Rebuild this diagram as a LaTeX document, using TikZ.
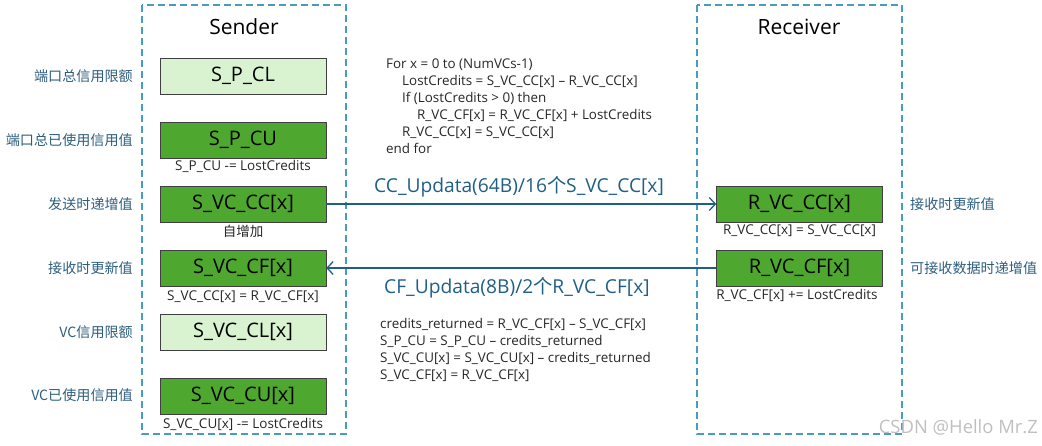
\documentclass[tikz,border=0pt]{standalone}
\usepackage{fontspec}
\setmainfont{Open Sans}
\newfontfamily\cjk{Noto Sans CJK SC}
\usetikzlibrary{arrows.meta}
\definecolor{dkgreen}{HTML}{4EA72E}
\definecolor{ltgreen}{HTML}{D9F2D0}
\definecolor{dashblue}{HTML}{4A9BC0}
\definecolor{arrowblue}{HTML}{1F5F86}
\definecolor{labelblue}{HTML}{2E5E7E}
\definecolor{codegray}{HTML}{262626}
\tikzset{
  panel/.style={draw=dashblue, line width=1.2pt, dash pattern=on 7pt off 4pt},
  regbox/.style={draw=black!75, line width=0.6pt, minimum width=166pt, minimum height=36pt, inner sep=0pt, font=\fontsize{20}{22}\selectfont},
  darkreg/.style={regbox, fill=dkgreen},
  lightreg/.style={regbox, fill=ltgreen},
  note/.style={font=\fontsize{13.5}{15}\selectfont, text=codegray, inner sep=0pt},
  sidelabel/.style={font=\cjk\fontsize{14.1}{16}\selectfont, text=labelblue, inner sep=0pt},
  title/.style={font=\fontsize{21}{23}\selectfont, inner sep=0pt},
  msg/.style={font=\fontsize{19.2}{21}\selectfont, text=arrowblue, inner sep=0pt},
  code/.style={font=\fontsize{13.4}{17}\selectfont, text=codegray, align=left, inner sep=0pt, anchor=north west},
  link/.style={draw=arrowblue, line width=1.3pt, -{Straight Barb[length=6pt,width=13pt,line width=1.3pt]}},
}
\begin{document}
\begin{tikzpicture}[x=1pt,y=-1pt]
\useasboundingbox (0,0) rectangle (1042,445);
% panels
\draw[panel] (142,5) rectangle (346,434);
\draw[panel] (697,5) rectangle (902,434);
\node[title] (sender) at (244,27) {Sender};
\node[title] (receiver) at (799,27) {Receiver};
% sender registers
\node[lightreg] (spcl) at (243,76) {S\_P\_CL};
\node[darkreg] (spcu) at (243,140) {S\_P\_CU};
\node[note] (spcun) at (243,166) {S\_P\_CU -= LostCredits};
\node[darkreg] (svccc) at (243,204) {S\_VC\_CC[x]};
\node[note,font=\cjk\fontsize{13.5}{15}\selectfont] (svcccn) at (243,231) {自增加};
\node[darkreg] (svccf) at (243,268) {S\_VC\_CF[x]};
\node[note] (svccfn) at (243,297) {S\_VC\_CC[x] = R\_VC\_CF[x]};
\node[lightreg] (svccl) at (243,332) {S\_VC\_CL[x]};
\node[darkreg] (svccu) at (243,396) {S\_VC\_CU[x]};
\node[note] (svccun) at (243,424) {S\_VC\_CU[x] -= LostCredits};
% receiver registers
\node[darkreg] (rvccc) at (799.5,204) {R\_VC\_CC[x]};
\node[note] (rvcccn) at (799.5,231) {R\_VC\_CC[x] = S\_VC\_CC[x]};
\node[darkreg] (rvccf) at (799.5,268) {R\_VC\_CF[x]};
\node[note] (rvccfn) at (797,295) {R\_VC\_CF[x] += LostCredits};
% left labels
\node[sidelabel,anchor=east] (l1) at (133,76) {端口总信用限额};
\node[sidelabel,anchor=east] (l2) at (133,140) {端口总已使用信用值};
\node[sidelabel,anchor=east] (l3) at (133,204) {发送时递增值};
\node[sidelabel,anchor=east] (l4) at (133,268) {接收时更新值};
\node[sidelabel,anchor=east] (l5) at (133,332) {VC信用限额};
\node[sidelabel,anchor=east] (l6) at (133,395) {VC已使用信用值};
% right labels
\node[sidelabel,anchor=west] (r1) at (910,204) {接收时更新值};
\node[sidelabel,anchor=west] (r2) at (910,268) {可接收数据时递增值};
% connectors
\draw[link] (svccc.east) -- (rvccc.west);
\draw[link] (rvccf.west) -- (svccf.east);
\node[msg] (ccmsg) at (519,187) {CC\_Updata(64B)/16{\cjk 个}S\_VC\_CC[x]};
\node[msg,anchor=west] (cfmsg) at (384,288) {CF\_Updata(8B)/2{\cjk 个}R\_VC\_CF[x]};
% code blocks
\node[code] (code1) at (386,59) {For x = 0 to (NumVCs-1)\\
\hspace*{16pt}LostCredits = S\_VC\_CC[x] -- R\_VC\_CC[x]\\
\hspace*{16pt}If (LostCredits > 0) then\\
\hspace*{31pt}R\_VC\_CF[x] = R\_VC\_CF[x] + LostCredits\\
\hspace*{16pt}R\_VC\_CC[x] = S\_VC\_CC[x]\\
end for};
\node[code] (code2) at (380,318) {credits\_returned = R\_VC\_CF[x] -- S\_VC\_CF[x]\\
S\_P\_CU = S\_P\_CU -- credits\_returned\\
S\_VC\_CU[x] = S\_VC\_CU[x] -- credits\_returned\\
S\_VC\_CF[x] = R\_VC\_CF[x]};
% watermark
\node[font=\fontsize{18.4}{20}\selectfont, text=black!25, anchor=east, inner sep=0pt] (wm) at (1038,427) {CSDN @Hello Mr.Z};
\end{tikzpicture}
\end{document}
